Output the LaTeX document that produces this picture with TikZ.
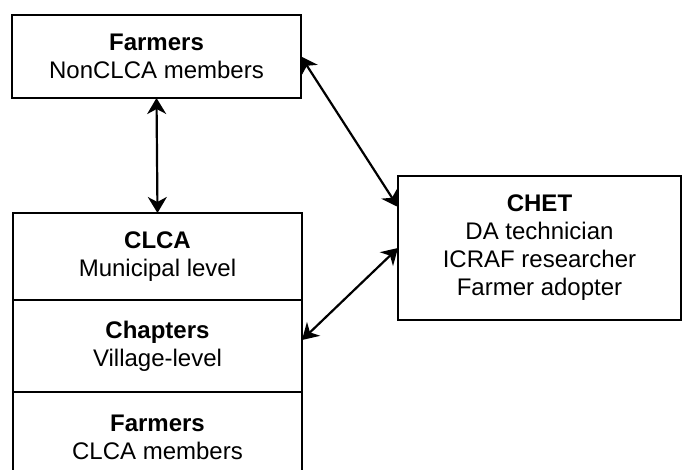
\documentclass[tikz,border=0pt]{standalone}
\usepackage{fontspec}
\setmainfont{Liberation Sans}
\usetikzlibrary{arrows.meta, positioning}
\tikzset{
	block/.style={draw, line width=2.2pt, outer sep=0pt, inner sep=0pt},
	boxtext/.style={align=center, font=\fontsize{24}{28}\selectfont},
	link/.style={<->, >={Stealth[length=16pt, width=19pt, inset=5pt]}, line width=2.2pt}
}

\begin{document}
\begin{tikzpicture}[x=1pt, y=-1pt]
		\useasboundingbox (0,0) rectangle (682,470);
		\clip (0,0) rectangle (682,470);
		
		\node[block, minimum width=289pt, minimum height=83pt] (nonclca) at (156.5,56.5) {};
		\node[boxtext] (nonclca-t) at (nonclca) {\textbf{Farmers} \\ NonCLCA members};
		
		\node[block, minimum width=289pt, minimum height=87pt] (clca) at (157.5,256.5) {};
		\node[boxtext] (clca-t) at (clca) {\textbf{CLCA} \\ Municipal level};
		
		\node[block, minimum width=289pt, minimum height=92pt, below=0pt of clca] (chapters) {};
		\node[boxtext] (chapters-t) at (chapters) {\textbf{Chapters} \\ Village-level};
		
		\node[block, minimum width=289pt, minimum height=90pt, below=0pt of chapters] (members) {};
		\node[boxtext] (members-t) at (members) {\textbf{Farmers} \\ CLCA members};
		
		\node[block, minimum width=283pt, minimum height=144pt] (chet) at (539.5,248) {};
		\node[boxtext] (chet-t) at (chet) {\textbf{CHET} \\ DA technician \\ ICRAF researcher \\ Farmer adopter};
		
		\draw[link] (nonclca.south) -- (clca.north);
		\draw[link] (nonclca.east)  -- ([yshift=41pt]chet.west);
		\draw[link] (chet.west)     -- ([yshift=6pt]chapters.east);
	\end{tikzpicture}
\end{document}
